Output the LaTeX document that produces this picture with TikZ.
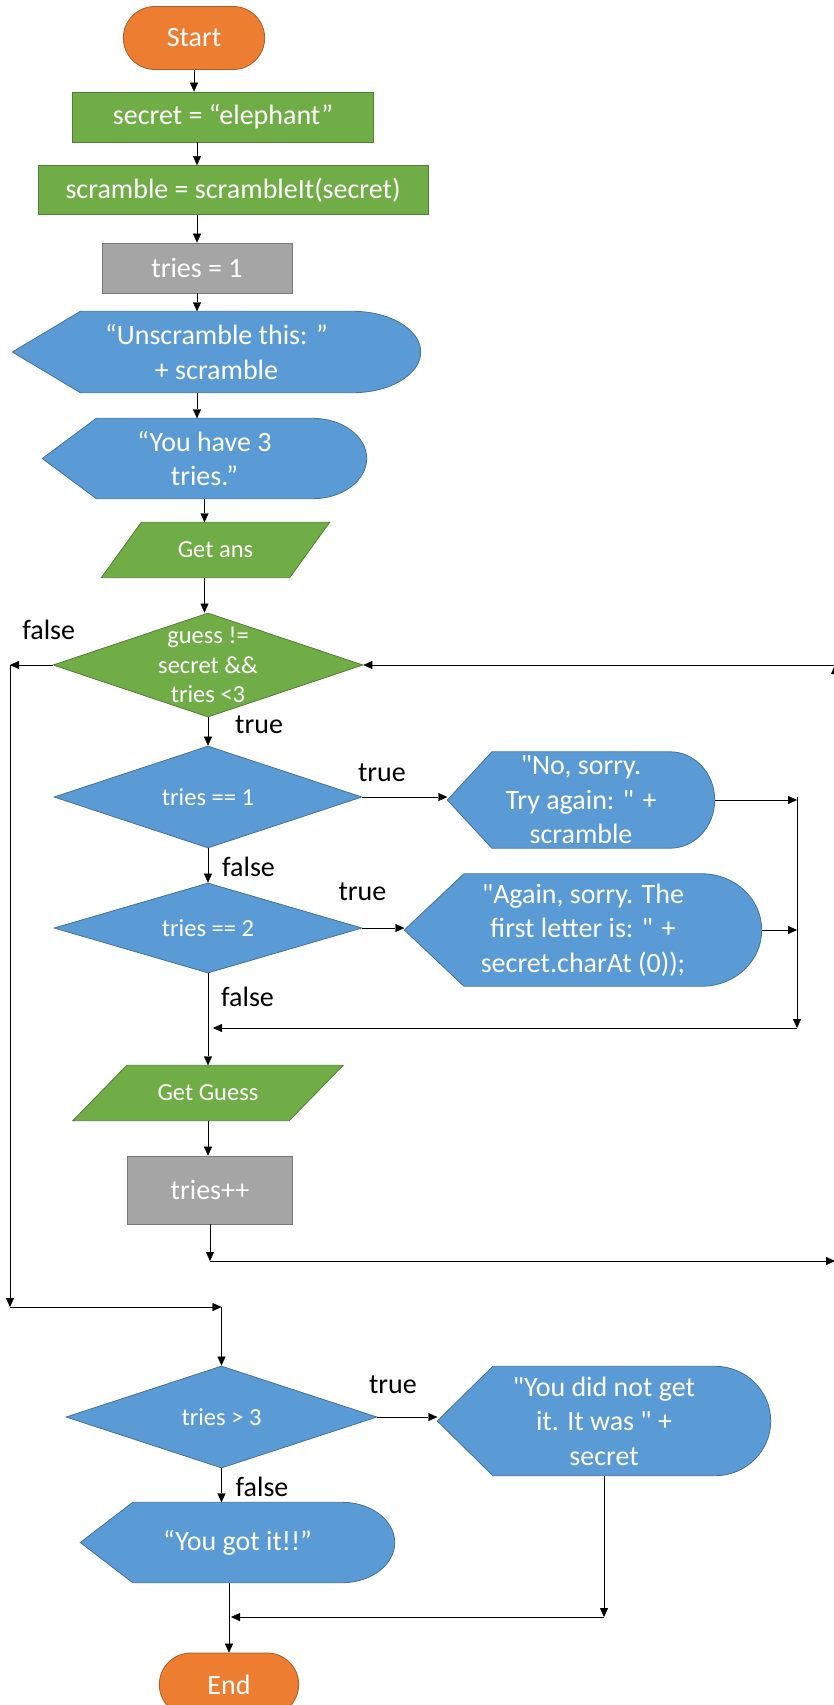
\documentclass[tikz,border=0pt]{standalone}
\usepackage{fontspec}
\setmainfont{Carlito}
\usetikzlibrary{shapes,arrows.meta,backgrounds,calc}

\definecolor{termfill}{HTML}{ED7D31}
\definecolor{termline}{HTML}{AE5A21}
\definecolor{grnfill}{HTML}{70AD47}
\definecolor{grnline}{HTML}{507E32}
\definecolor{blufill}{HTML}{5B9BD5}
\definecolor{bluline}{HTML}{41719C}
\definecolor{gryfill}{HTML}{A5A5A5}
\definecolor{gryline}{HTML}{787878}

\newcommand{\boxfont}{\fontsize{28}{34.5}\selectfont}
\newcommand{\decfont}{\fontsize{24.5}{29.5}\selectfont}
\newcommand{\q}{\textquotedbl}

\begin{document}
\begin{tikzpicture}[->,>={Triangle[length=9pt,width=8pt]},auto,x=1pt,y=1pt,line width=1.4pt,
  term/.style={rounded rectangle,draw=termline,fill=termfill,line width=0.8pt,text=white,font=\boxfont,minimum width=148pt,minimum height=63pt},
  procgreen/.style={rectangle,draw=grnline,fill=grnfill,line width=0.8pt,text=white,font=\boxfont,minimum height=50pt,inner sep=0pt},
  procgray/.style={rectangle,draw=gryline,fill=gryfill,line width=0.8pt,text=white,font=\boxfont,minimum height=50pt,inner sep=0pt},
  disp/.style={rectangle,text=white,font=\boxfont,align=center,inner sep=0pt},
  io/.style={rectangle,text=white,font=\decfont,minimum height=54pt,inner sep=0pt},
  decgreen/.style={diamond,draw=grnline,fill=grnfill,line width=0.8pt,text=white,font=\decfont,align=center,shape aspect=3,minimum width=310pt,minimum height=104pt,inner sep=0pt},
  decblue/.style={diamond,draw=bluline,fill=blufill,line width=0.8pt,text=white,font=\decfont,align=center,shape aspect=3,minimum width=308pt,minimum height=102pt,inner sep=0pt},
  dispshape/.style={arrows=-,draw=bluline,fill=blufill,line width=0.8pt},
  ioshape/.style={arrows=-,draw=grnline,fill=grnfill,line width=0.8pt},
  lbl/.style={text=black,font=\boxfont,inner sep=0pt}]
  \useasboundingbox (0,0) rectangle (833,-1705);

  \node[term] (start) at (194,-38) {Start};
  \node[procgreen,minimum width=301pt] (secret) [below of=start,node distance=79pt,xshift=29pt] {secret = “elephant”};
  \node[procgreen,minimum width=390pt,minimum height=49pt] (scramble) [below of=secret,node distance=73pt,xshift=10pt] {scramble = scrambleIt(secret)};
  \node[procgray,minimum width=190pt] (tries1) [below of=scramble,node distance=78pt,xshift=-36pt] {tries = 1};
  \node[disp,minimum width=407pt,minimum height=80pt] (unscr) [below of=tries1,node distance=84pt,xshift=19.5pt] {“Unscramble this: ”\\+ scramble};
  \node[disp,minimum width=323pt,minimum height=79pt] (have3) [below of=unscr,node distance=106.5pt,xshift=-12pt] {“You have 3\\tries.”};
  \node[io,minimum width=227pt] (getans) [below of=have3,node distance=91.5pt,xshift=11pt] {Get ans};
  \node[decgreen,inner xsep=-20pt,inner ysep=-30pt] (d1) [below of=getans,node distance=115pt,xshift=-7.5pt] {guess !=\\secret \&\&\\tries <3};
  \node[decblue] (d2) [below of=d1,node distance=132pt] {tries == 1};
  \node[decblue,minimum height=90pt] (d3) [below of=d2,node distance=131pt] {tries == 2};
  \node[io,minimum width=269pt] (getguess) [below of=d3,node distance=165pt] {Get Guess};
  \node[procgray,minimum width=165pt,minimum height=68pt] (triesinc) [below of=getguess,node distance=97pt,xshift=2pt] {tries++};
  \node[decblue,minimum width=311pt] (d4) [below of=triesinc,node distance=227pt,xshift=11.5pt] {tries > 3};
  \node[disp,minimum width=313pt,minimum height=79pt] (gotit) [below of=d4,node distance=125.5pt,xshift=16pt] {“You got it!!”};
  \node[term,minimum width=146pt] (end) [below of=gotit,node distance=142pt,xshift=-8.5pt] {End};
  \node[disp,minimum width=266pt,minimum height=95pt] (nosorry) [right of=d2,node distance=373pt,yshift=-3pt] {\q No, sorry.\\Try again: \q{} +\\scramble};
  \node[disp,minimum width=356pt,minimum height=111pt] (again) [right of=d3,node distance=375pt,yshift=-2pt] {\q Again, sorry. The\\first letter is: \q{} +\\secret.charAt (0));};
  \node[disp,minimum width=332pt,minimum height=108pt] (didnot) [right of=d4,node distance=382.5pt,yshift=-4pt] {\q You did not get\\it. It was \q{} +\\secret};

  % display and input shapes behind the texts
  \begin{pgfonlayer}{background}
    \foreach \nm in {unscr,have3,nosorry,again,didnot,gotit}
      \path[dispshape] let \p1=(\nm.north west), \p2=(\nm.south east) in
        (\nm.west) -- ({\x1+(\x2-\x1)/6},\y1) -- ({\x2-(\x2-\x1)/6},\y1)
        arc[start angle=90,end angle=-90,x radius={(\x2-\x1)/6},y radius={(\y1-\y2)/2}]
        -- ({\x1+(\x2-\x1)/6},\y2) -- cycle;
    \foreach \nm/\s in {getans/40,getguess/54}
      \path[ioshape] (\nm.south west) -- ($(\nm.north west)+(\s,0)$) -- (\nm.north east)
        -- ($(\nm.south east)-(\s,0)$) -- cycle;
  \end{pgfonlayer}

  \coordinate (loopa) at (210,-1261);
  \coordinate (loopb) at (835,-1261);
  \coordinate (loopc) at (835,-665);
  \coordinate (fa) at (10,-665);
  \coordinate (fb) at (10,-1307);
  \coordinate (fc) at (fb -| d4);
  \coordinate (ra) at (797,-797);
  \coordinate (rc) at (797,-1028);
  \coordinate (rd) at (213,-1028);
  \coordinate (ea) at (604,-1617);
  \coordinate (eb) at (231,-1617);

  \path (start.south) edge (start.south |- secret.north)
        (secret.south -| tries1) edge (scramble.north -| tries1)
        (scramble.south -| tries1) edge (tries1)
        (tries1) edge (tries1 |- unscr.north)
        (unscr.south -| tries1) edge (have3.north -| tries1)
        (have3) edge (have3 |- getans.north)
        (getans.south -| have3) edge (have3 |- d1.north)
        (d1) edge node[lbl,right=27pt,pos=.26] (t1) {true} (d2)
        (d1) edge node[lbl,above=25pt,pos=.09] (f1) {false} (fa)
        (fa) edge (fb)
        (fb) edge (fc)
        (fc) edge (d4)
        (d2) edge node[lbl,above=15pt,pos=.23] (t2) {true} (d2 -| nosorry.west)
        (d2) edge node[lbl,right=14pt,pos=.54] (f2) {false} (d3)
        (d3) edge node[lbl,above=27pt,pos=0] (t3) {true} (d3 -| again.west)
        (d3) edge node[lbl,right=13pt,pos=.25] (f3) {false} (d3 |- getguess.north)
        (nosorry) edge (nosorry -| ra)
        (again) edge (again -| ra)
        (ra) edge (rc)
        (rc) edge (rd)
        (getguess) edge (getguess |- triesinc.north)
        (triesinc.south) edge (triesinc.south |- loopa)
        (triesinc.south |- loopa) edge (loopb)
        (loopb) edge (loopc)
        (loopc) edge (d1)
        (d4) edge node[lbl,above=23pt,pos=.26] (t4) {true} (d4 -| didnot.west)
        (d4) edge node[lbl,right=14pt,pos=.54] (f4) {false} (d4 |- gotit.north)
        (didnot) edge (ea)
        (ea) edge (eb)
        (gotit.south -| end) edge (end.north);
\end{tikzpicture}
\end{document}
